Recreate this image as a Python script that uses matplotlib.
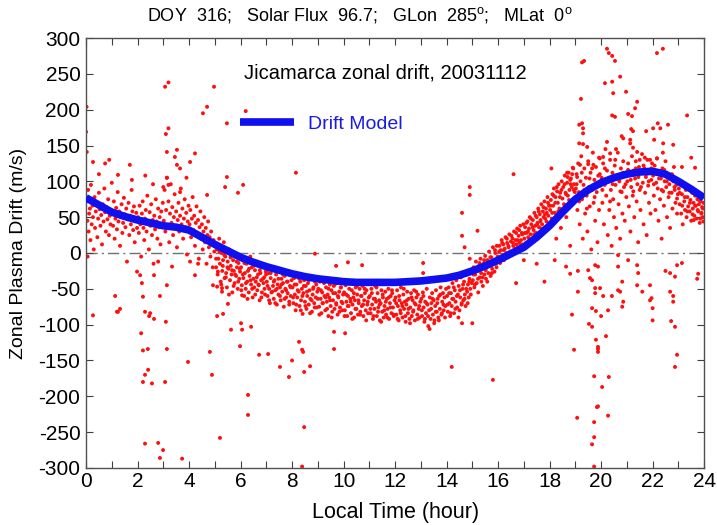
import numpy as np
import matplotlib
matplotlib.use("Agg")
from matplotlib import pyplot as plt
from matplotlib.ticker import MultipleLocator

plt.rcParams['font.family'] = ['Liberation Sans', 'DejaVu Sans']
plt.rcParams['mathtext.fontset'] = 'custom'
plt.rcParams['mathtext.rm'] = 'Liberation Sans'
plt.rcParams['axes.unicode_minus'] = False

## drift model (local time hour, m/s)
model_t = [0, 0.5, 1, 1.5, 2, 2.5, 3, 3.5, 4, 4.5, 5, 5.5, 6, 6.5, 7, 7.5, 8, 8.5,
           9, 9.5, 10, 10.5, 11, 11.5, 12, 12.5, 13, 13.5, 14, 14.5, 15, 15.5, 16,
           16.5, 17, 17.5, 18, 18.5, 19, 19.5, 20, 20.5, 21, 21.5, 22, 22.5, 23, 23.5, 24]
model_v = [77, 67, 57, 51, 46, 42, 38, 36, 32, 22, 12, 3, -6, -13, -19, -24, -29, -33,
           -36, -38, -40, -41, -41, -41, -41, -40, -39, -37, -35, -31, -25, -18, -10,
           -1, 8, 22, 38, 57, 75, 88, 98, 105, 110, 113, 114, 110, 100, 89, 77]

## measured drift, main band (hour, m/s)
seg_00 = [(0.02,72),(0.05,45),(0.06,-5),(0.08,88),(0.10,30),(0.12,55),(0.15,62),(0.17,18),(0.19,95),(0.22,40),(0.25,66),(0.27,50),(0.30,5),(0.33,78),(0.35,35),(0.38,58),(0.41,70),(0.44,22),(0.47,48),(0.50,84),(0.53,61),(0.56,38),(0.59,53),(0.62,12),(0.65,68),(0.68,44),(0.71,90),(0.74,57),(0.77,30),(0.80,64),(0.83,47),(0.86,75),(0.89,25),(0.92,52),(0.95,40),(0.98,60)]
seg_01 = [(1.02,55),(1.05,38),(1.08,72),(1.11,20),(1.14,48),(1.17,63),(1.20,33),(1.23,85),(1.26,44),(1.29,58),(1.32,10),(1.35,50),(1.38,68),(1.41,28),(1.44,42),(1.47,77),(1.50,54),(1.53,36),(1.56,62),(1.59,-12),(1.62,47),(1.65,70),(1.68,25),(1.71,52),(1.74,40),(1.77,88),(1.80,58),(1.83,32),(1.86,65),(1.89,15),(1.92,45),(1.95,56),(1.98,35)]
seg_02 = [(2.02,50),(2.05,28),(2.08,66),(2.11,40),(2.14,-5),(2.17,55),(2.20,72),(2.23,35),(2.26,18),(2.29,48),(2.32,60),(2.35,30),(2.38,80),(2.41,42),(2.44,5),(2.47,57),(2.50,38),(2.53,68),(2.56,25),(2.59,46),(2.62,-15),(2.65,52),(2.68,33),(2.71,75),(2.74,44),(2.77,20),(2.80,62),(2.83,36),(2.86,50),(2.89,12),(2.92,58),(2.95,40),(2.98,70)]
seg_03 = [(3.02,45),(3.05,88),(3.08,30),(3.11,60),(3.14,105),(3.17,38),(3.20,72),(3.23,15),(3.26,55),(3.29,96),(3.32,42),(3.35,64),(3.38,25),(3.41,50),(3.44,82),(3.47,35),(3.50,58),(3.53,8),(3.56,46),(3.59,70),(3.62,30),(3.65,52),(3.68,90),(3.71,40),(3.74,62),(3.77,20),(3.80,48),(3.83,75),(3.86,36),(3.89,56),(3.92,-2),(3.95,44),(3.98,66)]
seg_04 = [(4.02,40),(4.05,60),(4.08,22),(4.11,48),(4.14,78),(4.17,32),(4.20,52),(4.23,10),(4.26,42),(4.29,65),(4.32,28),(4.35,46),(4.38,-8),(4.41,36),(4.44,58),(4.47,20),(4.50,40),(4.53,5),(4.56,30),(4.59,50),(4.62,15),(4.65,35),(4.68,-15),(4.71,25),(4.74,44),(4.77,8),(4.80,22),(4.83,-5),(4.86,30),(4.89,12),(4.92,-20),(4.95,18),(4.98,2)]
seg_05 = [(5.02,10),(5.05,-20),(5.08,5),(5.11,-30),(5.14,-8),(5.17,20),(5.20,-15),(5.23,-40),(5.26,0),(5.29,-25),(5.32,-10),(5.35,15),(5.38,-35),(5.41,-5),(5.44,-28),(5.47,-48),(5.50,-12),(5.53,-22),(5.56,5),(5.59,-38),(5.62,-18),(5.65,-30),(5.68,-55),(5.71,-10),(5.74,-25),(5.77,-42),(5.80,-2),(5.83,-32),(5.86,-20),(5.89,-50),(5.92,-14),(5.95,-36),(5.98,-26)]
seg_06 = [(6.02,-20),(6.05,-45),(6.08,-10),(6.11,-35),(6.14,-60),(6.17,-28),(6.20,-50),(6.23,-15),(6.26,-40),(6.29,-25),(6.32,-55),(6.35,-32),(6.38,-5),(6.41,-44),(6.44,-20),(6.47,-62),(6.50,-36),(6.53,-48),(6.56,-24),(6.59,-40),(6.62,-12),(6.65,-52),(6.68,-30),(6.71,-45),(6.74,-66),(6.77,-28),(6.80,-38),(6.83,-55),(6.86,-18),(6.89,-42),(6.92,-34),(6.95,-58),(6.98,-26)]
seg_07 = [(7.02,-40),(7.05,-60),(7.08,-28),(7.11,-50),(7.14,-70),(7.17,-35),(7.20,-55),(7.23,-20),(7.26,-46),(7.29,-64),(7.32,-38),(7.35,-52),(7.38,-30),(7.41,-72),(7.44,-44),(7.47,-58),(7.50,-25),(7.53,-48),(7.56,-66),(7.59,-36),(7.62,-54),(7.65,-42),(7.68,-75),(7.71,-32),(7.74,-50),(7.77,-62),(7.80,-40),(7.83,-56),(7.86,-28),(7.89,-68),(7.92,-46),(7.95,-60),(7.98,-38)]
seg_08 = [(8.02,-48),(8.05,-70),(8.08,-35),(8.11,-58),(8.14,-80),(8.17,-44),(8.20,-62),(8.23,-30),(8.26,-54),(8.29,-74),(8.32,-40),(8.35,-66),(8.38,-50),(8.41,-85),(8.44,-56),(8.47,-38),(8.50,-68),(8.53,-46),(8.56,-78),(8.59,-60),(8.62,-42),(8.65,-72),(8.68,-52),(8.71,-64),(8.74,-34),(8.77,-82),(8.80,-58),(8.83,-48),(8.86,-70),(8.89,-40),(8.92,-62),(8.95,-76),(8.98,-54)]
seg_09 = [(9.02,-50),(9.05,-75),(9.08,-40),(9.11,-64),(9.14,-84),(9.17,-55),(9.20,-70),(9.23,-38),(9.26,-60),(9.29,-80),(9.32,-48),(9.35,-68),(9.38,-58),(9.41,-88),(9.44,-62),(9.47,-44),(9.50,-74),(9.53,-52),(9.56,-82),(9.59,-66),(9.62,-46),(9.65,-78),(9.68,-56),(9.71,-70),(9.74,-42),(9.77,-86),(9.80,-62),(9.83,-54),(9.86,-76),(9.89,-48),(9.92,-68),(9.95,-80),(9.98,-58)]
seg_10 = [(10.02,-55),(10.05,-80),(10.08,-45),(10.11,-68),(10.14,-88),(10.17,-60),(10.20,-74),(10.23,-42),(10.26,-64),(10.29,-84),(10.32,-52),(10.35,-72),(10.38,-62),(10.41,-90),(10.44,-66),(10.47,-48),(10.50,-78),(10.53,-58),(10.56,-86),(10.59,-70),(10.62,-50),(10.65,-82),(10.68,-60),(10.71,-74),(10.74,-46),(10.77,-88),(10.80,-66),(10.83,-56),(10.86,-80),(10.89,-52),(10.92,-72),(10.95,-84),(10.98,-62)]
seg_11 = [(11.02,-60),(11.05,-84),(11.08,-50),(11.11,-72),(11.14,-92),(11.17,-64),(11.20,-78),(11.23,-46),(11.26,-68),(11.29,-88),(11.32,-56),(11.35,-76),(11.38,-66),(11.41,-94),(11.44,-70),(11.47,-52),(11.50,-82),(11.53,-62),(11.56,-90),(11.59,-74),(11.62,-54),(11.65,-86),(11.68,-64),(11.71,-78),(11.74,-50),(11.77,-92),(11.80,-70),(11.83,-60),(11.86,-84),(11.89,-56),(11.92,-76),(11.95,-88),(11.98,-66)]
seg_12 = [(12.02,-62),(12.05,-86),(12.08,-52),(12.11,-74),(12.14,-94),(12.17,-66),(12.20,-80),(12.23,-48),(12.26,-70),(12.29,-90),(12.32,-58),(12.35,-78),(12.38,-68),(12.41,-96),(12.44,-72),(12.47,-54),(12.50,-84),(12.53,-64),(12.56,-92),(12.59,-76),(12.62,-56),(12.65,-88),(12.68,-66),(12.71,-80),(12.74,-52),(12.77,-94),(12.80,-72),(12.83,-62),(12.86,-86),(12.89,-58),(12.92,-78),(12.95,-90),(12.98,-68)]
seg_13 = [(13.02,-64),(13.05,-88),(13.08,-55),(13.11,-76),(13.14,-96),(13.17,-68),(13.20,-84),(13.23,-50),(13.26,-72),(13.29,-102),(13.32,-80),(13.35,-62),(13.38,-92),(13.41,-70),(13.44,-56),(13.47,-86),(13.50,-66),(13.53,-94),(13.56,-74),(13.59,-52),(13.62,-82),(13.65,-64),(13.68,-90),(13.71,-60),(13.74,-78),(13.77,-48),(13.80,-86),(13.83,-68),(13.86,-56),(13.89,-80),(13.92,-62),(13.95,-74),(13.98,-50)]
seg_14 = [(14.02,-60),(14.05,-82),(14.08,-48),(14.11,-70),(14.14,-88),(14.17,-56),(14.20,-74),(14.23,-42),(14.26,-64),(14.29,-84),(14.32,-52),(14.35,-68),(14.38,-38),(14.41,-76),(14.44,-58),(14.47,-46),(14.50,-80),(14.53,-62),(14.56,-34),(14.59,-70),(14.62,-50),(14.65,-66),(14.68,-40),(14.71,-58),(14.74,-74),(14.77,-30),(14.80,-54),(14.83,-44),(14.86,-62),(14.89,-36),(14.92,-50),(14.95,-26),(14.98,-42)]
seg_15 = [(15.02,-38),(15.05,-20),(15.08,-48),(15.11,-30),(15.14,-12),(15.17,-42),(15.20,-25),(15.23,-55),(15.26,-18),(15.29,-34),(15.32,-8),(15.35,-40),(15.38,-22),(15.41,-46),(15.44,-15),(15.47,-30),(15.50,-4),(15.53,-36),(15.56,-20),(15.59,-10),(15.62,-28),(15.65,2),(15.68,-16),(15.71,-32),(15.74,-6),(15.77,-22),(15.80,8),(15.83,-12),(15.86,-26),(15.89,0),(15.92,-15),(15.95,10),(15.98,-5)]
seg_16 = [(16.02,-8),(16.05,10),(16.08,-14),(16.11,4),(16.14,18),(16.17,-4),(16.20,12),(16.23,-10),(16.26,6),(16.29,22),(16.32,0),(16.35,14),(16.38,-6),(16.41,8),(16.44,26),(16.47,2),(16.50,16),(16.53,-2),(16.56,20),(16.59,10),(16.62,30),(16.65,4),(16.68,18),(16.71,12),(16.74,34),(16.77,8),(16.80,24),(16.83,14),(16.86,38),(16.89,18),(16.92,28),(16.95,12),(16.98,40)]
seg_17 = [(17.02,20),(17.05,36),(17.08,14),(17.11,28),(17.14,44),(17.17,22),(17.20,34),(17.23,50),(17.26,26),(17.29,40),(17.32,18),(17.35,46),(17.38,32),(17.41,56),(17.44,38),(17.47,28),(17.50,50),(17.53,42),(17.56,62),(17.59,36),(17.62,54),(17.65,46),(17.68,68),(17.71,40),(17.74,58),(17.77,50),(17.80,72),(17.83,48),(17.86,62),(17.89,56),(17.92,78),(17.95,52),(17.98,66)]
seg_18 = [(18.02,60),(18.05,74),(18.08,48),(18.11,82),(18.14,66),(18.17,90),(18.20,56),(18.23,78),(18.26,20),(18.29,86),(18.32,70),(18.35,96),(18.38,62),(18.41,84),(18.44,35),(18.47,100),(18.50,76),(18.53,92),(18.56,68),(18.59,108),(18.62,84),(18.65,50),(18.68,98),(18.71,80),(18.74,112),(18.77,88),(18.80,10),(18.83,104),(18.86,92),(18.89,72),(18.92,118),(18.95,96),(18.98,85)]
seg_19 = [(19.02,90),(19.05,110),(19.08,60),(19.11,125),(19.14,85),(19.17,40),(19.20,100),(19.23,135),(19.26,75),(19.29,20),(19.32,95),(19.35,118),(19.38,55),(19.41,105),(19.44,80),(19.47,30),(19.50,128),(19.53,92),(19.56,65),(19.59,112),(19.62,5),(19.65,88),(19.68,140),(19.71,70),(19.74,102),(19.77,45),(19.80,120),(19.83,85),(19.86,15),(19.89,108),(19.92,60),(19.95,132),(19.98,94)]
seg_20 = [(20.02,105),(20.05,70),(20.08,125),(20.11,40),(20.14,95),(20.17,145),(20.20,80),(20.23,115),(20.26,25),(20.29,100),(20.32,60),(20.35,130),(20.38,88),(20.41,10),(20.44,112),(20.47,75),(20.50,50),(20.53,122),(20.56,95),(20.59,35),(20.62,108),(20.65,140),(20.68,68),(20.71,100),(20.74,20),(20.77,118),(20.80,85),(20.83,55),(20.86,128),(20.89,92),(20.92,45),(20.95,110),(20.98,78)]
seg_21 = [(21.02,100),(21.05,125),(21.08,65),(21.11,110),(21.14,30),(21.17,92),(21.20,135),(21.23,80),(21.26,115),(21.29,50),(21.32,104),(21.35,128),(21.38,72),(21.41,96),(21.44,15),(21.47,120),(21.50,88),(21.53,60),(21.56,112),(21.59,138),(21.62,98),(21.65,40),(21.68,118),(21.71,84),(21.74,106),(21.77,25),(21.80,130),(21.83,94),(21.86,70),(21.89,115),(21.92,55),(21.95,102),(21.98,125)]
seg_22 = [(22.02,108),(22.05,80),(22.08,122),(22.11,60),(22.14,98),(22.17,132),(22.20,90),(22.23,45),(22.26,112),(22.29,75),(22.32,104),(22.35,20),(22.38,118),(22.41,86),(22.44,66),(22.47,100),(22.50,128),(22.53,92),(22.56,50),(22.59,110),(22.62,78),(22.65,96),(22.68,35),(22.71,106),(22.74,84),(22.77,62),(22.80,100),(22.83,120),(22.86,88),(22.89,70),(22.92,95),(22.95,55),(22.98,82)]
seg_23 = [(23.02,90),(23.05,68),(23.08,100),(23.11,55),(23.14,82),(23.17,40),(23.20,95),(23.23,72),(23.26,60),(23.29,88),(23.32,50),(23.35,78),(23.38,65),(23.41,92),(23.44,58),(23.47,74),(23.50,45),(23.53,84),(23.56,62),(23.59,70),(23.62,52),(23.65,80),(23.68,66),(23.71,48),(23.74,75),(23.77,58),(23.80,68),(23.83,42),(23.86,72),(23.89,55),(23.92,64),(23.95,50),(23.98,70)]

## extra points where the band is densest
extra_05_08 = [(5.05,-8),(5.12,-26),(5.18,2),(5.25,-44),(5.31,-18),(5.37,-3),(5.43,-34),(5.49,-20),(5.55,-58),(5.61,-6),(5.67,-24),(5.73,-46),(5.79,-30),(5.85,-12),(5.91,-40),(5.97,-22),(6.03,-52),(6.09,-30),(6.15,-14),(6.21,-42),(6.27,-64),(6.33,-22),(6.39,-38),(6.45,-50),(6.51,-18),(6.57,-58),(6.63,-34),(6.69,-44),(6.75,-24),(6.81,-62),(6.87,-36),(6.93,-50),(6.99,-30),(7.05,-46),(7.11,-66),(7.17,-28),(7.23,-54),(7.29,-40),(7.35,-70),(7.41,-50),(7.47,-36),(7.53,-60),(7.59,-44),(7.65,-30),(7.71,-64),(7.77,-52),(7.83,-40),(7.89,-72),(7.95,-48)]
extra_08_15 = [(8.04,-62),(8.10,-44),(8.16,-72),(8.22,-52),(8.28,-36),(8.34,-80),(8.40,-60),(8.46,-46),(8.52,-74),(8.58,-54),(8.64,-38),(8.70,-84),(8.76,-66),(8.82,-50),(8.88,-76),(8.94,-44),(9.00,-64),(9.06,-86),(9.12,-52),(9.18,-70),(9.24,-42),(9.30,-62),(9.36,-78),(9.42,-50),(9.48,-66),(9.54,-90),(9.60,-56),(9.66,-44),(9.72,-72),(9.78,-60),(9.84,-82),(9.90,-48),(9.96,-70),
               (10.04,-88),(10.10,-58),(10.16,-74),(10.22,-50),(10.28,-68),(10.34,-92),(10.40,-56),(10.46,-78),(10.52,-46),(10.58,-66),(10.64,-86),(10.70,-60),(10.76,-72),(10.82,-50),(10.88,-94),(10.94,-68),
               (11.04,-78),(11.10,-56),(11.16,-88),(11.22,-64),(11.28,-48),(11.34,-82),(11.40,-72),(11.46,-96),(11.52,-58),(11.58,-80),(11.64,-68),(11.70,-90),(11.76,-62),(11.82,-76),(11.88,-52),(11.94,-86),
               (12.04,-70),(12.10,-92),(12.16,-60),(12.22,-84),(12.28,-74),(12.34,-50),(12.40,-88),(12.46,-66),(12.52,-78),(12.58,-98),(12.64,-62),(12.70,-82),(12.76,-70),(12.82,-54),(12.88,-92),(12.94,-74),
               (13.04,-80),(13.10,-60),(13.16,-92),(13.22,-70),(13.28,-88),(13.34,-106),(13.40,-78),(13.46,-64),(13.52,-98),(13.58,-82),(13.64,-70),(13.70,-94),(13.76,-58),(13.82,-84),(13.88,-72),(13.94,-90),
               (14.04,-72),(14.10,-56),(14.16,-84),(14.22,-64),(14.28,-48),(14.34,-78),(14.40,-60),(14.46,-90),(14.52,-52),(14.58,-72),(14.64,-44),(14.70,-64),(14.76,-50),(14.82,-70),(14.88,-40),(14.94,-58)]
extra_15_19 = [(15.04,-30),(15.10,-44),(15.16,-22),(15.22,-36),(15.28,-14),(15.34,-28),(15.40,-34),(15.46,-10),(15.52,-24),(15.58,-40),(15.64,-18),(15.70,-6),(15.76,-28),(15.82,-14),(15.88,4),(15.94,-20),
               (16.04,2),(16.10,-6),(16.16,14),(16.22,4),(16.28,-4),(16.34,20),(16.40,10),(16.46,0),(16.52,24),(16.58,14),(16.64,6),(16.70,28),(16.76,18),(16.82,32),(16.88,10),(16.94,26),
               (17.04,28),(17.10,42),(17.16,30),(17.22,18),(17.28,48),(17.34,36),(17.40,26),(17.46,52),(17.52,40),(17.58,58),(17.64,44),(17.70,34),(17.76,64),(17.82,54),(17.88,44),(17.94,70),
               (18.04,66),(18.10,56),(18.16,80),(18.22,70),(18.28,92),(18.34,58),(18.40,78),(18.46,88),(18.52,62),(18.58,96),(18.64,82),(18.70,106),(18.76,74),(18.82,96),(18.88,110),(18.94,88)]
extra_19_24 = [(19.05,96),(19.15,72),(19.25,112),(19.35,88),(19.45,62),(19.55,104),(19.65,118),(19.75,78),(19.85,96),(19.95,110),
               (20.05,88),(20.15,118),(20.25,100),(20.35,72),(20.45,96),(20.55,130),(20.65,108),(20.75,86),(20.85,112),(20.95,96),
               (21.05,116),(21.15,102),(21.25,86),(21.35,118),(21.45,106),(21.55,92),(21.65,122),(21.75,110),(21.85,100),(21.95,118),
               (22.05,96),(22.15,114),(22.25,104),(22.35,88),(22.45,116),(22.55,100),(22.65,84),(22.75,110),(22.85,92),(22.95,76),
               (23.05,84),(23.15,66),(23.25,78),(23.35,58),(23.45,70),(23.55,54),(23.65,66),(23.75,60),(23.85,48),(23.95,62),(23.9,56),(23.97,44),(23.8,74),(23.6,46)]

## scattered points away from the band
out_early_up = [(0.02,204),(0.0,169),(0.03,141),(0.27,127),(0.74,125),(1.24,109),(1.7,123),(1.78,102),(3.07,232),(3.2,238),(4.97,232),(4.7,204),(4.54,195),(5.47,181),(6.2,198),(3.1,166),(3.2,174),(3.14,141),(3.53,144),(3.45,134),(4.23,139),(4.04,127),(3.53,123),(3.65,118),(3.14,105),(3.2,95),(3.0,92),(5.47,106),(5.4,92),(6.1,95),(5.9,84),(4.7,81),(3.9,105),(3.65,85),(8.15,112),(0.5,110),(1.0,98),(2.3,108),(2.6,96),(0.9,130)]
out_early_low = [(0.27,-87),(1.13,-60),(1.2,-82),(1.32,-78),(1.98,-26),(2.1,-31),(2.17,-42),(2.21,-61),(2.14,-112),(2.21,-136),(2.4,-134),(2.21,-180),(2.29,-170),(2.41,-163),(2.56,-182),(2.29,-82),(2.49,-84),(2.64,-92),(2.64,-31),(2.87,-60),(3.1,-96),(3.14,-134),(3.07,-180),(2.8,-12),(3.14,-45),(2.29,-266),(2.8,-265),(2.99,-275),(2.87,-286),(3.73,-287),(3.96,-152),(4.81,-138),(4.89,-170),(5.2,-258),(5.09,-88),(5.32,-85),(5.63,-107),(6.02,-98),(6.06,-107),(5.98,-130),(6.41,-103),(6.29,-198),(6.29,-226),(6.72,-142),(7.07,-141),(7.53,-159),(7.88,-173),(8.0,-150),(8.27,-124),(8.39,-135),(8.43,-138),(8.47,-166),(8.7,-158),(8.47,-243),(8.39,-298),(9.63,-134),(9.63,-110),(10.06,-112),(9.71,-18),(10.17,-13),(10.72,-17),(8.89,-1),(5.28,-49),(5.28,-54),(5.51,-71),(4.93,-45),(5.09,-47),(4.23,-31),(3.34,-19),(6.06,-59),(4.04,-12),(4.35,-15),(2.45,-88),(1.24,-82)]
out_late_low = [(13.09,-14),(13.09,-28),(14.2,-159),(15.8,-177),(16.7,-42),(17.5,-15),(17.0,-10),(18.64,-19),(18.8,-29),(19.1,-25),(19.1,-54),(18.87,-86),(18.95,-135),(19.07,-230),(19.5,-24),(19.57,-35),(19.65,-38),(19.77,-17),(19.88,-19),(19.77,-49),(19.96,-49),(19.77,-56),(19.65,-77),(19.8,-81),(20.0,-88),(19.53,-99),(19.65,-103),(19.8,-121),(19.88,-131),(19.88,-134),(19.88,-138),(20.19,-116),(19.73,-172),(20.3,-173),(20.04,-187),(19.84,-215),(19.88,-214),(20.27,-227),(19.73,-236),(19.73,-257),(19.65,-267),(19.73,-298),(20.27,-80),(20.42,-60),(20.08,-60),(20.66,-3),(20.66,-19),(21.05,-10),(20.82,-40),(20.66,-52),(20.74,-54),(20.86,-68),(20.82,-75),(21.4,-17),(21.44,-28),(21.4,-45),(21.6,-54),(21.9,-45),(21.9,-66),(21.96,-63),(22.0,-77),(22.0,-94),(22.5,-25),(22.68,-28),(22.87,-33),(22.68,-54),(22.8,-60),(22.8,-68),(22.72,-95),(22.87,-103),(22.95,-142),(22.87,-159),(22.95,-17),(23.14,-14),(23.77,-29),(23.73,-36),(14.6,-98),(15.0,-98),(14.9,-8),(16.4,-5),(17.8,-40),(18.2,-10)]
out_mid_up = [(16.6,110),(18.07,118),(14.9,92),(14.9,81),(14.6,56),(14.6,24),(15.2,31),(14.7,8),(19.26,266),(19.22,215)]
out_late_up = [(20.23,285),(20.3,279),(20.43,275),(20.54,268),(19.34,268),(22.17,279),(22.4,285),(20.15,237),(20.43,239),(20.47,223),(20.74,246),(20.97,225),(21.4,211),(21.32,202),(21.05,194),(20.43,192),(20.54,190),(21.2,191),(23.34,192),(19.15,179),(19.26,181),(19.3,174),(19.3,167),(21.17,173),(21.24,170),(21.75,170),(22.02,174),(22.2,181),(22.3,174),(22.6,179),(20.23,155),(20.8,163),(20.86,160),(21.13,158),(21.13,153),(19.15,153),(19.3,152),(19.46,148),(22.06,158),(22.41,153),(22.8,151),(19.92,133),(20.08,134),(20.35,139),(20.58,145),(21.24,147),(21.4,141),(21.5,130),(21.7,133),(21.9,130),(22.17,132),(22.4,140),(23.14,120),(23.5,133),(23.65,119),(19.5,124),(19.18,123),(18.9,119),(18.68,112),(19.07,106),(18.8,102),(19.7,123)]

all_segments = [seg_00, seg_01, seg_02, seg_03, seg_04, seg_05, seg_06, seg_07, seg_08,
                seg_09, seg_10, seg_11, seg_12, seg_13, seg_14, seg_15, seg_16, seg_17,
                seg_18, seg_19, seg_20, seg_21, seg_22, seg_23,
                extra_05_08, extra_08_15, extra_15_19, extra_19_24,
                out_early_up, out_early_low, out_late_low, out_mid_up, out_late_up]
pts = np.array([p for seg in all_segments for p in seg])

fig = plt.figure(figsize=(7.17, 5.25), dpi=100)
ax = fig.add_axes([0.12, 0.1086, 0.862, 0.819])

ax.scatter(pts[:, 0], pts[:, 1], s=8, color='#ff1010', edgecolors='none', zorder=2)
ax.axhline(0, color='#707070', lw=1, ls='-.', dashes=(8, 3, 1.5, 3), zorder=1)
ax.plot(model_t, model_v, color='#1010ee', lw=5.5, solid_capstyle='butt', zorder=3,
        label='Drift Model')

ax.set_xlim(0, 24)
ax.set_ylim(-300, 300)
ax.xaxis.set_major_locator(MultipleLocator(2))
ax.xaxis.set_minor_locator(MultipleLocator(1))
ax.yaxis.set_major_locator(MultipleLocator(50))
ax.tick_params(which='both', direction='in', top=True, right=True, length=5,
               width=0.8, color='#404040', labelsize=15)
ax.tick_params(axis='x', pad=3)
ax.tick_params(axis='y', pad=4)
for s in ax.spines.values():
    s.set_color('#505050')
    s.set_linewidth(1)

ax.set_xlabel('Local Time (hour)', fontsize=15.5, labelpad=8)
ax.set_ylabel('Zonal Plasma Drift (m/s)', fontsize=14, labelpad=8)

ax.text(0.484, 0.919, 'Jicamarca zonal drift, 20031112', transform=ax.transAxes,
        ha='center', va='center', fontsize=14.5)
leg = ax.legend(loc='center left', bbox_to_anchor=(0.249, 0.80), frameon=False,
                borderpad=0, borderaxespad=0, handlelength=2.8, handletextpad=0.7,
                fontsize=14)
for t in leg.get_texts():
    t.set_color('#1a1ae6')

fig.text(0.502, 0.971,
         r'DOY  316;   Solar Flux  96.7;   GLon  285$^{\rm o}$;   MLat  0$^{\rm o}$',
         ha='center', va='center', fontsize=13)

fig.savefig('out.png', dpi=100)
